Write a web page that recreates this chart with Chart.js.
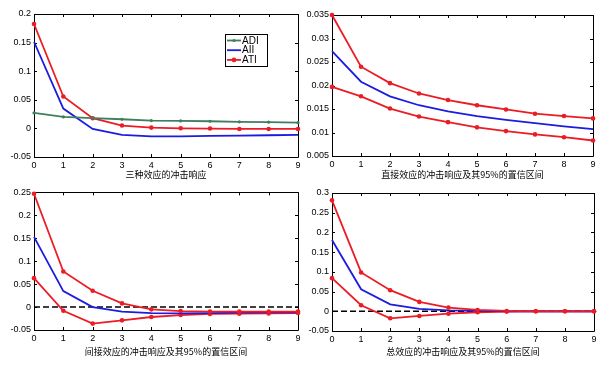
<!DOCTYPE html>
<html>
<head>
<meta charset="utf-8">
<script src="https://cdn.jsdelivr.net/npm/chart.js@4.4.1/dist/chart.umd.min.js"></script>
<style>
  html, body { margin: 0; padding: 0; background: #fff; }
  body { width: 614px; height: 368px; position: relative; overflow: hidden; }
  .panel { position: absolute; width: 307px; height: 184px; }
</style>
</head>
<body>
<div class="panel" style="left:0;top:0"><canvas id="c1"></canvas></div>
<div class="panel" style="left:307px;top:0"><canvas id="c2"></canvas></div>
<div class="panel" style="left:0;top:184px"><canvas id="c3"></canvas></div>
<div class="panel" style="left:307px;top:184px"><canvas id="c4"></canvas></div>
<script>
// periods after the shock
const steps = ['0', '1', '2', '3', '4', '5', '6', '7', '8', '9'];

// panel 1: three effects
const adi = [0.027, 0.020, 0.018, 0.016, 0.0137, 0.013, 0.0125, 0.0115, 0.0108, 0.010];
const aii = [0.1515, 0.0347, -0.001, -0.0113, -0.0138, -0.0138, -0.013, -0.0126, -0.012, -0.0114];
const ati = [0.1825, 0.0557, 0.0178, 0.005, 0.0014, 0.0002, -0.0003, -0.001, -0.001, -0.001];

// panel 2: direct effect with 95% band
const directUp = [0.035, 0.0240, 0.0205, 0.0183, 0.0169, 0.0158, 0.0149, 0.0140, 0.0135, 0.0130];
const directMid = [0.0273, 0.0208, 0.0177, 0.0158, 0.0145, 0.0135, 0.0127, 0.0120, 0.0113, 0.0107];
const directLow = [0.0197, 0.0177, 0.0151, 0.0134, 0.0122, 0.0111, 0.0103, 0.0096, 0.0090, 0.0083];

// panel 3: indirect effect with 95% band
const indirectUp = [0.247, 0.0775, 0.0355, 0.008, -0.005, -0.0087, -0.010, -0.010, -0.010, -0.010];
const indirectMid = [0.153, 0.0348, 0, -0.010, -0.013, -0.0138, -0.013, -0.0123, -0.0116, -0.0116];
const indirectLow = [0.063, -0.008, -0.036, -0.029, -0.0217, -0.0174, -0.015, -0.0145, -0.0138, -0.013];

// panel 4: total effect with 95% band
const totalUp = [0.2813, 0.0985, 0.0535, 0.0238, 0.0093, 0.0034, 0.0008, 0, 0, 0];
const totalMid = [0.181, 0.056, 0.0178, 0.006, 0.0025, 0.0008, 0, 0, 0, 0];
const totalLow = [0.084, 0.0153, -0.0178, -0.0119, -0.006, -0.0025, -0.0008, 0, 0, 0];

const zeroLine = [0, 0, 0, 0, 0, 0, 0, 0, 0, 0];

// y tick labels
const ticks1 = [-0.05, 0, 0.05, 0.1, 0.15, 0.2];
const ticks2 = [0.005, 0.01, 0.015, 0.02, 0.025, 0.03, 0.035];
const ticks3 = [-0.05, 0, 0.05, 0.1, 0.15, 0.2, 0.25];
const ticks4 = [-0.05, 0, 0.05, 0.1, 0.15, 0.2, 0.25, 0.3];

const titles = [
  '三种效应的冲击响应',
  '直接效应的冲击响应及其95%的置信区间',
  '间接效应的冲击响应及其95%的置信区间',
  '总效应的冲击响应及其95%的置信区间'
];

const RED = '#ec1c24';
const BLUE = '#1c1ce0';
const GREEN = '#3f7f5f';
const LATIN = '"Liberation Sans", Arial, sans-serif';
const CJK = '"Noto Sans CJK SC", sans-serif';

Chart.defaults.animation = false;
Chart.defaults.color = '#000';

// MATLAB-like box with inward ticks
const framePlugin = {
  id: 'frame',
  beforeDatasetsDraw(chart) {
    const { ctx, chartArea: a, scales: { x, y } } = chart;
    const yTicks = chart.options.plugins.frame.ticks;
    ctx.save();
    ctx.strokeStyle = '#000';
    ctx.lineWidth = 1;
    ctx.beginPath();
    ctx.rect(Math.round(a.left) + 0.5, Math.round(a.top) + 0.5,
      Math.round(a.right - a.left), Math.round(a.bottom - a.top));
    steps.forEach((s, i) => {
      const px = Math.round(x.getPixelForValue(i)) + 0.5;
      ctx.moveTo(px, a.bottom); ctx.lineTo(px, a.bottom - 3);
      ctx.moveTo(px, a.top); ctx.lineTo(px, a.top + 3);
    });
    yTicks.forEach(v => {
      const py = Math.round(y.getPixelForValue(v)) + 0.5;
      ctx.moveTo(a.left, py); ctx.lineTo(a.left + 3, py);
      ctx.moveTo(a.right, py); ctx.lineTo(a.right - 3, py);
    });
    ctx.stroke();
    ctx.restore();
  }
};

// boxed legend inside the first panel
const boxLegend = {
  id: 'boxLegend',
  afterDraw(chart) {
    const o = chart.options.plugins.boxLegend;
    if (!o || !o.show) return;
    const ctx = chart.ctx;
    ctx.save();
    ctx.fillStyle = '#fff';
    ctx.fillRect(o.x, o.y, o.w, o.h);
    ctx.strokeStyle = '#000';
    ctx.lineWidth = 1;
    ctx.strokeRect(o.x + 0.5, o.y + 0.5, o.w, o.h);
    ctx.font = '10px ' + LATIN;
    ctx.textBaseline = 'middle';
    chart.data.datasets.forEach((ds, i) => {
      const cy = o.y + 6.5 + i * 9.7;
      ctx.strokeStyle = ds.borderColor;
      ctx.lineWidth = ds.borderWidth;
      ctx.beginPath();
      ctx.moveTo(o.x + 2, cy); ctx.lineTo(o.x + 16, cy);
      ctx.stroke();
      if (ds.pointRadius > 0) {
        ctx.fillStyle = ds.borderColor;
        ctx.beginPath();
        ctx.arc(o.x + 9, cy, ds.pointRadius, 0, Math.PI * 2);
        ctx.fill();
      }
      ctx.fillStyle = '#000';
      ctx.fillText(ds.label, o.x + 17, cy + 0.5);
    });
    ctx.restore();
  }
};

function line(label, data, color, radius, extra) {
  return Object.assign({
    label: label,
    data: data,
    borderColor: color,
    backgroundColor: color,
    borderWidth: 1.8,
    pointRadius: radius,
    pointBorderWidth: 0,
    pointHoverRadius: radius,
    tension: 0,
    clip: false
  }, extra || {});
}

function makeChart(id, datasets, yTicks, title, box, legend) {
  return new Chart(document.getElementById(id), {
    type: 'line',
    data: { labels: steps, datasets: datasets },
    options: {
      responsive: true,
      maintainAspectRatio: false,
      events: [],
      layout: { padding: { top: box.top, right: 307 - box.right, left: 0, bottom: 0 } },
      plugins: {
        legend: { display: false },
        tooltip: { enabled: false },
        frame: { ticks: yTicks },
        boxLegend: legend || { show: false }
      },
      scales: {
        x: {
          offset: false,
          grid: { display: false, drawTicks: false },
          border: { display: false },
          ticks: { padding: 3, maxRotation: 0, autoSkip: false, font: { family: LATIN, size: 9 } },
          title: {
            display: true, text: title,
            font: { family: CJK, size: 9 },
            padding: { top: 0, bottom: box.titlePad }
          },
          afterFit: s => { s.height = 184 - box.bottom; }
        },
        y: {
          min: yTicks[0],
          max: yTicks[yTicks.length - 1],
          afterBuildTicks: s => { s.ticks = yTicks.map(v => ({ value: v })); },
          grid: { display: false, drawTicks: false },
          border: { display: false },
          ticks: { padding: 3, font: { family: LATIN, size: 9 }, callback: v => String(v) },
          afterFit: s => { s.width = box.left; }
        }
      }
    },
    plugins: [framePlugin, boxLegend]
  });
}

makeChart('c1', [
  line('ADI', adi, GREEN, 1.6),
  line('AII', aii, BLUE, 0),
  line('ATI', ati, RED, 2.3)
], ticks1, titles[0], { left: 34, right: 298, top: 14, bottom: 157, titlePad: 4 },
{ show: true, x: 225, y: 34, w: 42, h: 32 });

makeChart('c2', [
  line('upper', directUp, RED, 2.3),
  line('effect', directMid, BLUE, 0),
  line('lower', directLow, RED, 2.3)
], ticks2, titles[1], { left: 25, right: 286, top: 15, bottom: 156, titlePad: 4 });

makeChart('c3', [
  line('upper', indirectUp, RED, 2.3),
  line('effect', indirectMid, BLUE, 0),
  line('lower', indirectLow, RED, 2.3),
  line('zero', zeroLine, '#000', 0, { borderDash: [6, 3], borderWidth: 1.5 })
], ticks3, titles[2], { left: 34, right: 298, top: 8, bottom: 146, titlePad: 11 });

makeChart('c4', [
  line('upper', totalUp, RED, 2.3),
  line('effect', totalMid, BLUE, 0),
  line('lower', totalLow, RED, 2.3),
  line('zero', zeroLine, '#000', 0, { borderDash: [6, 3], borderWidth: 1.5 })
], ticks4, titles[3], { left: 25, right: 287, top: 9, bottom: 147, titlePad: 11 });
</script>
</body>
</html>
